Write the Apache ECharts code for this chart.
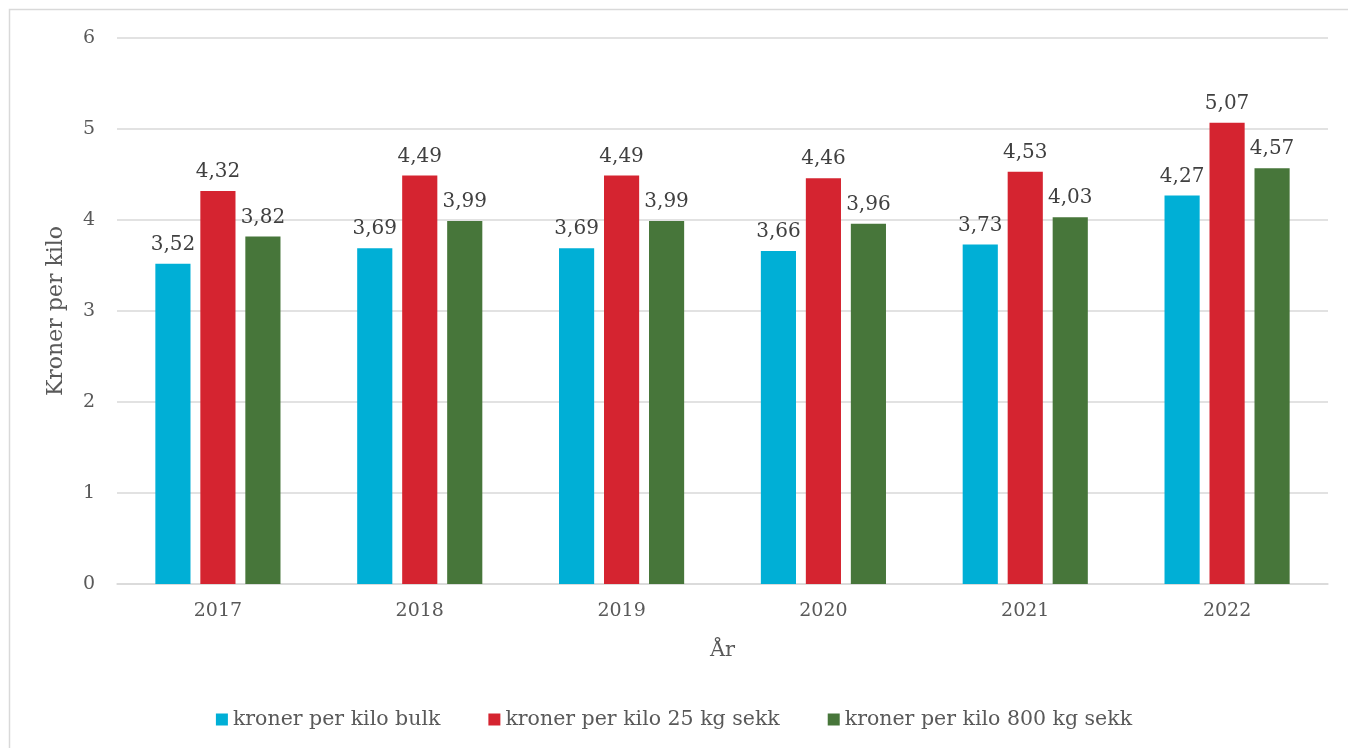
<!DOCTYPE html>
<html><head><meta charset="utf-8">
<script src="https://cdn.jsdelivr.net/npm/echarts@6/dist/echarts.min.js"></script>
<style>html,body{margin:0;padding:0;background:#fff}#c{width:1348px;height:748px}</style>
</head><body><div id="c"></div>
<script>
const categories = ['2017','2018','2019','2020','2021','2022'];
const bulk = [3.52, 3.69, 3.69, 3.66, 3.73, 4.27];
const sekk25 = [4.32, 4.49, 4.49, 4.46, 4.53, 5.07];
const sekk800 = [3.82, 3.99, 3.99, 3.96, 4.03, 4.57];
const seriesNames = ['kroner per kilo bulk','kroner per kilo 25 kg sekk','kroner per kilo 800 kg sekk'];
const yTicks = [0,1,2,3,4,5,6];

const FONT = "Georgia, 'DejaVu Serif', serif";
const TXT = '#595959';
const chart = echarts.init(document.getElementById('c'));
const lbl = {show:true, position:'top', distance:9, color:'#404040', fontFamily:FONT, fontSize:20,
  formatter: p => p.value.toFixed(2).replace('.', ',')};
function mk(name, data, color){
  return {name, type:'bar', data, barGap:'28%', barCategoryGap:'38%', itemStyle:{color}, label:lbl};
}
chart.setOption({
  animation:false,
  graphic:[{type:'rect', shape:{x:9.5,y:9.5,width:1400,height:800}, style:{fill:'none', stroke:'#d9d9d9', lineWidth:1.5}, silent:true}],
  grid:{left:117, right:20, top:38, bottom:164},
  legend:{bottom:13, left:'center', itemWidth:12, itemHeight:12, itemGap:48, icon:'rect',
    textStyle:{color:TXT, fontFamily:FONT, fontSize:20.5}},
  xAxis:{type:'category', data:categories, name:'År', nameLocation:'middle', nameGap:56,
    nameTextStyle:{color:TXT, fontFamily:FONT, fontSize:21},
    axisLine:{lineStyle:{color:'#d9d9d9', width:1.5}}, axisTick:{show:false},
    axisLabel:{color:TXT, fontFamily:FONT, fontSize:19, margin:18}},
  yAxis:{type:'value', min:yTicks[0], max:yTicks[yTicks.length-1], interval:1,
    name:'Kroner per kilo', nameLocation:'middle', nameGap:50,
    nameTextStyle:{color:TXT, fontFamily:FONT, fontSize:22},
    axisLabel:{color:TXT, fontFamily:FONT, fontSize:19, margin:22},
    splitLine:{lineStyle:{color:'#d9d9d9', width:1.5}}},
  series:[mk(seriesNames[0], bulk, '#00AFD6'), mk(seriesNames[1], sekk25, '#D52430'), mk(seriesNames[2], sekk800, '#47763A')]
});
</script></body></html>
